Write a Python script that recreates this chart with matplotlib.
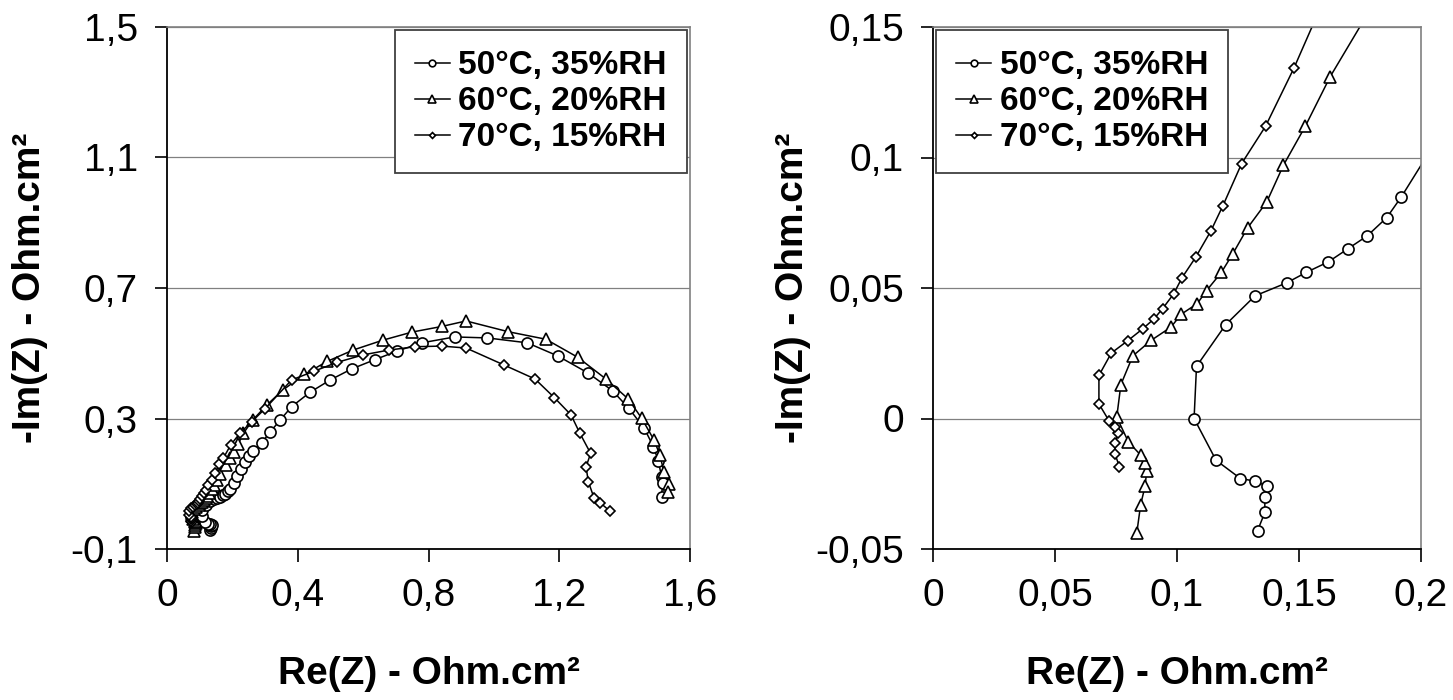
import matplotlib
matplotlib.use("Agg")
import matplotlib.pyplot as plt

plt.rcParams["font.family"] = ["Liberation Sans", "DejaVu Sans"]

# Nyquist data (high frequency first)
x_50 = [0.133, 0.136, 0.136, 0.137, 0.132, 0.126, 0.116, 0.107, 0.108, 0.120,
        0.132, 0.145, 0.153, 0.162, 0.170, 0.178, 0.186, 0.192, 0.204, 0.215,
        0.226, 0.238, 0.250, 0.264, 0.290, 0.315, 0.346, 0.381, 0.437,
        0.499, 0.565, 0.635, 0.705, 0.780, 0.880, 0.980, 1.102, 1.195, 1.289,
        1.363, 1.413, 1.460, 1.488, 1.503, 1.513, 1.516, 1.513]
y_50 = [-0.043, -0.036, -0.030, -0.026, -0.024, -0.023, -0.016, 0.000, 0.020, 0.036,
        0.047, 0.052, 0.056, 0.060, 0.065, 0.070, 0.077, 0.085, 0.103, 0.125,
        0.146, 0.168, 0.184, 0.200, 0.226, 0.258, 0.295, 0.336, 0.380,
        0.418, 0.452, 0.480, 0.507, 0.532, 0.550, 0.547, 0.532, 0.492, 0.439,
        0.385, 0.331, 0.270, 0.214, 0.170, 0.122, 0.101, 0.060]

x_60 = [0.0835, 0.0851, 0.0869, 0.0876, 0.0869, 0.0851, 0.0801, 0.0753, 0.0770, 0.0819,
        0.0895, 0.0975, 0.1018, 0.1083, 0.1121, 0.1182, 0.1228, 0.1289, 0.1368, 0.1436,
        0.1526, 0.1628, 0.180, 0.192, 0.205, 0.218, 0.234, 0.262, 0.305, 0.354,
        0.420, 0.490, 0.570, 0.660, 0.750, 0.840, 0.915, 1.044, 1.159, 1.256,
        1.343, 1.411, 1.452, 1.490, 1.508, 1.520, 1.537, 1.532]
y_60 = [-0.044, -0.033, -0.026, -0.020, -0.017, -0.014, -0.009, 0.0005, 0.013, 0.024,
        0.030, 0.035, 0.040, 0.044, 0.049, 0.056, 0.063, 0.073, 0.083, 0.097,
        0.112, 0.131, 0.158, 0.178, 0.198, 0.222, 0.255, 0.295, 0.341, 0.387,
        0.435, 0.475, 0.510, 0.540, 0.565, 0.582, 0.599, 0.566, 0.543, 0.488,
        0.421, 0.360, 0.301, 0.234, 0.188, 0.137, 0.099, 0.076]

x_70 = [0.0764, 0.0746, 0.0746, 0.0760, 0.0746, 0.0721, 0.0680, 0.0680, 0.0731, 0.0798,
        0.0860, 0.0906, 0.0941, 0.0986, 0.1021, 0.1076, 0.1139, 0.1188, 0.1265, 0.1363,
        0.1479, 0.160, 0.172, 0.195, 0.223, 0.259, 0.300, 0.381, 0.450, 0.520,
        0.600, 0.680, 0.760, 0.840, 0.915, 1.031, 1.126, 1.185, 1.236, 1.263,
        1.296, 1.282, 1.289, 1.307, 1.325, 1.355]
y_70 = [-0.0185, -0.0136, -0.0095, -0.0054, -0.0034, -0.0008, 0.0056, 0.0165, 0.0251, 0.0298,
        0.0344, 0.0382, 0.0421, 0.0477, 0.0540, 0.0617, 0.0719, 0.0815, 0.0977, 0.1120,
        0.1342, 0.160, 0.178, 0.219, 0.255, 0.290, 0.330, 0.418, 0.445, 0.472,
        0.495, 0.510, 0.520, 0.522, 0.516, 0.464, 0.421, 0.364, 0.311, 0.255,
        0.193, 0.152, 0.106, 0.055, 0.042, 0.016]

series = [
    ("50°C, 35%RH", x_50, y_50, "o", 8),
    ("60°C, 20%RH", x_60, y_60, "^", 8.5),
    ("70°C, 15%RH", x_70, y_70, "D", 5),
]

left_xticks = [0, 0.4, 0.8, 1.2, 1.6]
left_xlabels = ["0", "0,4", "0,8", "1,2", "1,6"]
left_yticks = [-0.1, 0.3, 0.7, 1.1, 1.5]
left_ylabels = ["-0,1", "0,3", "0,7", "1,1", "1,5"]

right_xticks = [0, 0.05, 0.1, 0.15, 0.2]
right_xlabels = ["0", "0,05", "0,1", "0,15", "0,2"]
right_yticks = [-0.05, 0, 0.05, 0.1, 0.15]
right_ylabels = ["-0,05", "0", "0,05", "0,1", "0,15"]

W, H = 1453, 700
fig = plt.figure(figsize=(W / 100, H / 100), dpi=100)
ax1 = fig.add_axes([167 / W, 1 - 549 / H, (690 - 167) / W, 522 / H])
ax2 = fig.add_axes([933 / W, 1 - 549 / H, (1421 - 933) / W, 522 / H])


def style(ax, xt, xl, yt, yl, ypad):
    ax.set_xlim(xt[0], xt[-1])
    ax.set_ylim(yt[0], yt[-1])
    ax.set_xticks(xt, xl)
    ax.set_yticks(yt, yl)
    ax.tick_params(direction="out", length=9, width=1.2, labelsize=28, pad=12)
    ax.yaxis.grid(True, color="#808080", lw=0.9)
    ax.set_axisbelow(True)
    for s in ("left", "bottom"):
        ax.spines[s].set_color("black")
        ax.spines[s].set_linewidth(1.3)
    for s in ("top", "right"):
        ax.spines[s].set_color("#808080")
        ax.spines[s].set_linewidth(1.2)
    ax.set_xlabel("Re(Z) - Ohm.cm²", fontsize=28, fontweight="bold", labelpad=30)
    ax.set_ylabel("-Im(Z) - Ohm.cm²", fontsize=28, fontweight="bold", labelpad=ypad)


for ax in (ax1, ax2):
    for label, xs, ys, mk, ms in series:
        ax.plot(xs, ys, color="black", lw=1.1, marker=mk, ms=ms,
                mfc="white", mec="black", mew=1.2, label=label)

style(ax1, left_xticks, left_xlabels, left_yticks, left_ylabels, 16)
style(ax2, right_xticks, right_xlabels, right_yticks, right_ylabels, 3)

leg_kw = dict(prop={"size": 24, "weight": "bold"}, markerscale=0.6, handlelength=1.05,
              handletextpad=0.25, labelspacing=0.15, borderpad=0.6, borderaxespad=0.1,
              fancybox=False, framealpha=1, edgecolor="#404040")
l1 = ax1.legend(loc="upper right", **leg_kw)
l2 = ax2.legend(loc="upper left", **leg_kw)
for lg in (l1, l2):
    lg.get_frame().set_linewidth(1.3)

fig.savefig("out.png", dpi=100)
